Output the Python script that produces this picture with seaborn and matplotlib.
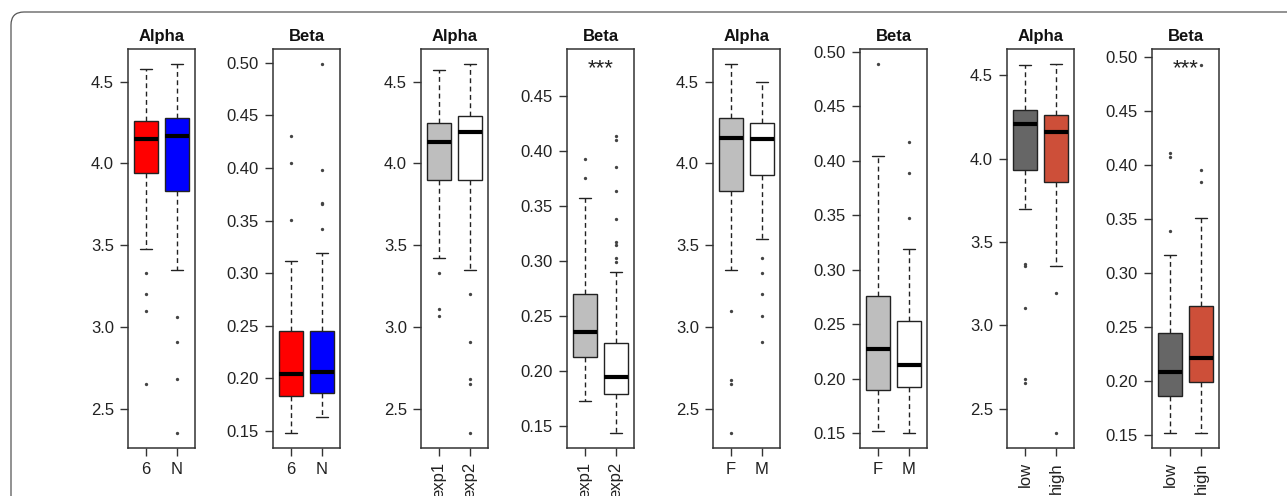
import matplotlib
matplotlib.use("Agg")
import matplotlib.pyplot as plt
import matplotlib.transforms as mtransforms
from matplotlib.patches import FancyBboxPatch
import seaborn as sns
import numpy as np
import pandas as pd

# five-number summaries: [whisker low, q1, median, q3, whisker high]
site_labels = ["6", "N"]
alpha_site_box = [[3.48, 3.94, 4.15, 4.26, 4.58], [3.35, 3.83, 4.17, 4.28, 4.61]]
alpha_site_out = [[3.33, 3.20, 3.10, 2.65], [3.06, 2.91, 2.68, 2.35]]
beta_site_box = [[0.148, 0.183, 0.204, 0.245, 0.312], [0.163, 0.186, 0.206, 0.245, 0.319]]
beta_site_out = [[0.430, 0.405, 0.351], [0.499, 0.398, 0.367, 0.366, 0.342]]

exp_labels = ["exp1", "exp2"]
alpha_exp_box = [[3.42, 3.90, 4.13, 4.25, 4.57], [3.35, 3.90, 4.19, 4.29, 4.61]]
alpha_exp_out = [[3.33, 3.11, 3.07], [3.20, 2.91, 2.68, 2.65, 2.35]]
beta_exp_box = [[0.172, 0.212, 0.235, 0.270, 0.357], [0.143, 0.179, 0.194, 0.225, 0.290]]
beta_exp_out = [[0.392, 0.375],
                [0.413, 0.410, 0.385, 0.363, 0.338, 0.317, 0.314, 0.302, 0.299]]
beta_exp_star = 0.479

sex_labels = ["F", "M"]
alpha_sex_box = [[3.35, 3.83, 4.155, 4.28, 4.61], [3.54, 3.93, 4.15, 4.25, 4.50]]
alpha_sex_out = [[3.10, 2.675, 2.65, 2.35], [3.42, 3.33, 3.20, 3.07, 2.91]]
beta_sex_box = [[0.152, 0.190, 0.227, 0.276, 0.404], [0.150, 0.1925, 0.213, 0.253, 0.319]]
beta_sex_out = [[0.489], [0.4175, 0.389, 0.3475]]

level_labels = ["low", "high"]
alpha_level_box = [[3.70, 3.93, 4.21, 4.29, 4.56], [3.355, 3.86, 4.16, 4.26, 4.568]]
alpha_level_out = [[3.37, 3.355, 3.105, 2.68, 2.656], [3.195, 2.354]]
beta_level_box = [[0.1515, 0.186, 0.208, 0.244, 0.317], [0.1515, 0.199, 0.221, 0.269, 0.351]]
beta_level_out = [[0.4115, 0.407, 0.339], [0.493, 0.395, 0.384]]
beta_level_star = 0.4938

site_colors = ["#FF0000", "#0000FF"]
grey_colors = ["#BEBEBE", "#FFFFFF"]
level_colors = ["#666666", "#CD4F39"]

panels = [
    ("Alpha", site_labels, alpha_site_box, alpha_site_out, site_colors, None, False),
    ("Beta", site_labels, beta_site_box, beta_site_out, site_colors, None, False),
    ("Alpha", exp_labels, alpha_exp_box, alpha_exp_out, grey_colors, None, True),
    ("Beta", exp_labels, beta_exp_box, beta_exp_out, grey_colors, beta_exp_star, True),
    ("Alpha", sex_labels, alpha_sex_box, alpha_sex_out, grey_colors, None, False),
    ("Beta", sex_labels, beta_sex_box, beta_sex_out, grey_colors, None, False),
    ("Alpha", level_labels, alpha_level_box, alpha_level_out, level_colors, None, True),
    ("Beta", level_labels, beta_level_box, beta_level_out, level_colors, beta_level_star, True),
]

sns.set_style("white")
plt.rcParams["font.family"] = ["Liberation Sans", "DejaVu Sans"]

W, H = 1287, 496
fig = plt.figure(figsize=(W / 100, H / 100), dpi=100)

# outer frame of the original figure (rounded corner, cut by the crop)
frame = FancyBboxPatch((11, -60), 1400, H - 12 + 60,
                       boxstyle="round,pad=0,rounding_size=13",
                       transform=mtransforms.IdentityTransform(),
                       fill=False, edgecolor="#555555", linewidth=0.9)
fig.add_artist(frame)

lefts = [128, 273, 421, 567, 713, 860, 1007, 1152]
ax_w, ax_top, ax_bot = 67, 49, 448
edge = "#222222"

for left, (title, labels, box, out, colors, star, rotate) in zip(lefts, panels):
    ax = fig.add_axes([left / W, 1 - ax_bot / H, ax_w / W, (ax_bot - ax_top) / H])

    df = pd.DataFrame({
        "grp": [lab for lab, vals in zip(labels, out) for _ in vals],
        "val": [v for vals in out for v in vals],
    })
    sns.stripplot(data=df, x="grp", y="val", order=labels, jitter=False,
                  color="#444444", size=2.4, linewidth=0, ax=ax)

    stats = [dict(whislo=b[0], q1=b[1], med=b[2], q3=b[3], whishi=b[4], fliers=[], label=lab)
             for b, lab in zip(box, labels)]
    res = ax.bxp(stats, positions=[0, 1], widths=0.8, patch_artist=True,
                 showfliers=False, manage_ticks=False, capwidths=0.36,
                 boxprops=dict(edgecolor=edge, linewidth=1.0),
                 medianprops=dict(color="black", linewidth=3, solid_capstyle="butt"),
                 whiskerprops=dict(color=edge, linewidth=1.0, linestyle=(0, (3.5, 2.5))),
                 capprops=dict(color=edge, linewidth=1.0))
    for patch, c in zip(res["boxes"], colors):
        patch.set_facecolor(c)

    allv = [v for b in box for v in b] + [v for vals in out for v in vals]
    if star is not None:
        allv.append(star)
        # nudge down a few pixels: the asterisk glyphs sit high in the text box
        shift = mtransforms.ScaledTranslation(0, -5 / 100, fig.dpi_scale_trans)
        ax.text(0.5, star, "***", ha="center", va="center", fontsize=16,
                color="#222222", transform=ax.transData + shift)
    lo, hi = min(allv), max(allv)
    pad = (hi - lo) * 0.04
    ax.set_ylim(lo - pad, hi + pad)
    ax.set_xlim(-0.58, 1.58)

    if title == "Alpha":
        ticks = np.arange(2.5, 4.51, 0.5)
        fmt = "{:.1f}"
    else:
        ticks = np.arange(0.15, 0.501, 0.05)
        fmt = "{:.2f}"
    ticks = [t for t in ticks if lo - pad <= t <= hi + pad]
    ax.set_yticks(ticks)
    ax.set_yticklabels([fmt.format(t) for t in ticks])
    ax.set_xticks([0, 1])
    ax.set_xticklabels(labels, rotation=90 if rotate else 0,
                       va="top", ha="center")

    ax.set_xlabel("")
    ax.set_ylabel("")
    ax.set_title(title, fontsize=12, fontweight="bold", pad=6, color="#111111")
    ax.tick_params(axis="both", direction="out", length=6, width=1.0,
                   color="#333333", labelsize=12, labelcolor="#222222", pad=4,
                   left=True, bottom=True)
    for sp in ax.spines.values():
        sp.set_visible(True)
        sp.set_color("#333333")
        sp.set_linewidth(1.1)
    ax.grid(False)

fig.savefig("out.png", dpi=100)
